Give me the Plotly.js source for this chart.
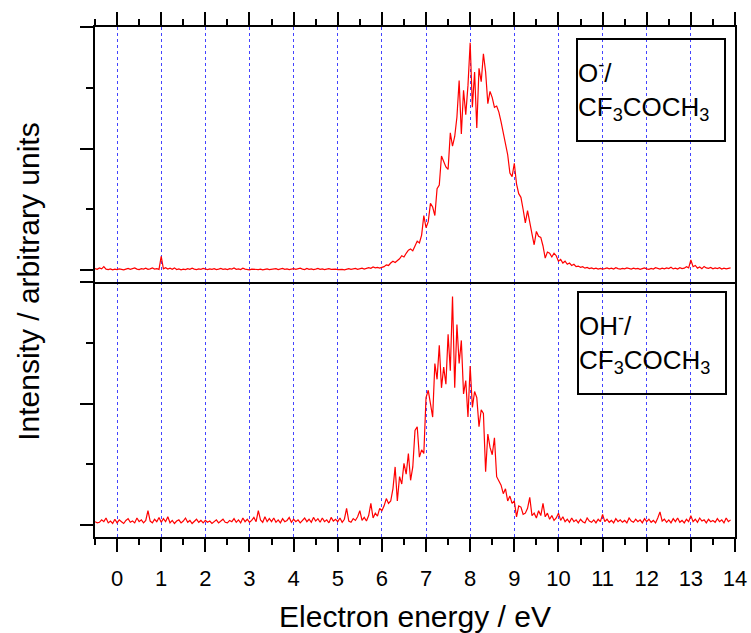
<!DOCTYPE html>
<html>
<head>
<meta charset="utf-8">
<script src="https://cdn.plot.ly/plotly-3.0.1.min.js"></script>
<style>html,body{margin:0;padding:0;background:#fff;}#chart{width:751px;height:633px;}</style>
</head>
<body>
<div id="chart"></div>
<script>
// Energy sampling grid (eV): start and step of the recorded scan
const energyStart = -0.5;
const energyStep = 0.05;

// O- / CF3COCH3 ion yield (upper panel), arbitrary units
const yieldO = [
0.015,0.008,0.020,0.012,0.030,0.010,0.006,0.012,0.004,0.010,
0.006,0.012,0.008,0.004,0.010,0.016,0.008,0.012,0.020,0.010,
0.006,0.014,0.010,0.018,0.008,0.012,0.020,0.010,0.014,0.008,
0.115,0.012,0.022,0.010,0.018,0.008,0.020,0.006,0.012,0.004,
0.010,0.006,0.014,0.008,0.018,0.010,0.006,0.012,0.008,0.016,
0.010,0.006,0.012,0.008,0.014,0.006,0.010,0.016,0.008,0.012,
0.006,0.014,0.010,0.020,0.008,0.012,0.006,0.018,0.010,0.008,
0.004,0.010,0.008,0.012,0.006,0.010,0.004,0.008,0.012,0.006,
0.010,0.008,0.014,0.006,0.010,0.016,0.008,0.012,0.006,0.010,
0.014,0.008,0.012,0.018,0.010,0.006,0.016,0.008,0.012,0.006,
0.010,0.016,0.008,0.012,0.006,0.010,0.014,0.008,0.012,0.010,
0.006,0.010,0.008,0.004,0.010,0.014,0.008,0.010,0.016,0.008,
0.012,0.018,0.010,0.014,0.022,0.016,0.028,0.020,0.024,0.018,
0.022,0.030,0.045,0.040,0.060,0.075,0.065,0.080,0.095,0.120,
0.110,0.140,0.165,0.175,0.160,0.200,0.240,0.225,0.290,0.450,
0.350,0.400,0.550,0.520,0.450,0.670,0.700,0.940,0.900,0.850,
0.830,1.130,1.020,1.100,1.260,1.560,1.120,1.480,1.280,1.520,
1.870,1.340,1.630,1.170,1.660,1.550,1.780,1.630,1.370,1.470,
1.420,1.340,1.350,1.300,1.220,1.130,1.070,0.950,0.800,0.770,
0.880,0.710,0.630,0.600,0.500,0.390,0.490,0.380,0.300,0.210,
0.320,0.280,0.270,0.200,0.100,0.150,0.140,0.110,0.140,0.120,
0.075,0.090,0.060,0.075,0.050,0.060,0.040,0.050,0.030,0.035,
0.025,0.030,0.018,0.024,0.014,0.020,0.012,0.018,0.010,0.016,
0.010,0.014,0.020,0.012,0.018,0.010,0.022,0.014,0.010,0.016,
0.012,0.020,0.014,0.010,0.018,0.012,0.016,0.008,0.014,0.020,
0.012,0.008,0.016,0.010,0.022,0.014,0.010,0.018,0.012,0.020,
0.014,0.026,0.012,0.018,0.010,0.022,0.014,0.018,0.030,0.020,
0.085,0.030,0.040,0.018,0.028,0.014,0.032,0.020,0.016,0.024,
0.012,0.020,0.014,0.022,0.010,0.018,0.012,0.016,0.020];

// OH- / CF3COCH3 ion yield (lower panel), arbitrary units
const yieldOH = [
0.030,0.020,0.025,0.045,0.030,0.060,0.020,0.035,0.015,0.050,
0.020,0.045,0.030,0.015,0.040,0.055,0.025,0.035,0.020,0.060,
0.030,0.045,0.020,0.040,0.120,0.035,0.020,0.050,0.030,0.065,
0.025,0.055,0.030,0.070,0.020,0.040,0.015,0.035,0.045,0.020,
0.035,0.060,0.025,0.040,0.015,0.030,0.050,0.025,0.040,0.020,
0.040,0.025,0.035,0.015,0.030,0.045,0.020,0.035,0.050,0.025,
0.020,0.040,0.030,0.055,0.025,0.045,0.020,0.060,0.030,0.050,
0.025,0.040,0.065,0.030,0.120,0.045,0.025,0.070,0.030,0.055,
0.030,0.060,0.025,0.045,0.020,0.055,0.030,0.040,0.065,0.025,
0.050,0.030,0.045,0.020,0.040,0.060,0.030,0.050,0.025,0.065,
0.035,0.055,0.025,0.060,0.030,0.045,0.020,0.065,0.035,0.050,
0.030,0.060,0.025,0.050,0.140,0.035,0.025,0.055,0.040,0.070,
0.120,0.040,0.065,0.035,0.080,0.180,0.060,0.100,0.075,0.140,
0.120,0.160,0.220,0.180,0.200,0.300,0.480,0.200,0.400,0.340,
0.510,0.420,0.590,0.370,0.480,0.780,0.810,0.560,0.620,0.590,
1.050,1.110,1.000,0.890,1.330,1.200,1.480,1.130,1.300,1.160,
1.570,1.270,1.880,1.130,1.650,1.330,1.520,1.080,1.190,0.890,
1.310,0.970,1.100,1.050,0.810,0.950,0.920,0.440,0.750,0.640,
0.580,0.720,0.400,0.370,0.330,0.260,0.300,0.200,0.240,0.180,
0.200,0.070,0.160,0.150,0.090,0.100,0.140,0.230,0.080,0.100,
0.060,0.120,0.080,0.180,0.070,0.100,0.050,0.080,0.040,0.060,
0.100,0.040,0.070,0.030,0.050,0.025,0.060,0.030,0.045,0.020,
0.050,0.030,0.020,0.060,0.035,0.025,0.045,0.020,0.050,0.030,
0.090,0.030,0.050,0.025,0.040,0.020,0.055,0.030,0.045,0.025,
0.040,0.020,0.060,0.035,0.025,0.050,0.030,0.045,0.020,0.055,
0.030,0.050,0.025,0.040,0.020,0.060,0.110,0.035,0.050,0.025,
0.045,0.020,0.055,0.030,0.060,0.025,0.040,0.020,0.050,0.030,
0.080,0.030,0.050,0.025,0.060,0.035,0.045,0.020,0.050,0.030,
0.040,0.025,0.055,0.030,0.045,0.020,0.060,0.030,0.045];

const xTickVals = [0,1,2,3,4,5,6,7,8,9,10,11,12,13,14];
const xTickText = ["0","1","2","3","4","5","6","7","8","9","10","11","12","13","14"];
const panelLabels = ["O<sup>-</sup>/<br>CF<sub>3</sub>COCH<sub>3</sub>", "OH<sup>-</sup>/<br>CF<sub>3</sub>COCH<sub>3</sub>"];
const xTitle = "Electron energy / eV";
const yTitle = "Intensity / arbitrary units";

const energy = yieldO.map((_, i) => +(energyStart + i * energyStep).toFixed(3));

const FONT = "Liberation Sans, Arial, Helvetica, sans-serif";
const lineStyle = {color: "#ff0000", width: 1.2};

const traces = [
  {x: energy, y: yieldOH, xaxis: "x", yaxis: "y", type: "scatter", mode: "lines", line: lineStyle, hoverinfo: "skip"},
  {x: energy, y: yieldO, xaxis: "x2", yaxis: "y2", type: "scatter", mode: "lines", line: lineStyle, hoverinfo: "skip"}
];

const yRange = [-0.096, 2.0];
const xBase = {
  range: [-0.5, 14], tickmode: "array", tickvals: xTickVals, ticktext: xTickText,
  showline: true, linecolor: "#000", linewidth: 2,
  ticks: "outside", ticklen: 13, tickwidth: 2, tickcolor: "#000",
  showgrid: true, gridcolor: "#4444ff", gridwidth: 1, griddash: "dot",
  zeroline: false,
  minor: {dtick: 0.5, tick0: 0, ticks: "outside", ticklen: 6, tickwidth: 2, tickcolor: "#000", showgrid: false}
};
const yBase = {
  range: yRange, tickmode: "linear", tick0: 0, dtick: 1,
  showline: true, linecolor: "#000", linewidth: 2, mirror: true,
  ticks: "outside", ticklen: 13, tickwidth: 2, tickcolor: "#000",
  showticklabels: false, showgrid: false, zeroline: false,
  minor: {dtick: 0.5, tick0: 0, ticks: "outside", ticklen: 7, tickwidth: 2, tickcolor: "#000", showgrid: false}
};
const yRight = {
  range: yRange, tickmode: "linear", tick0: 0, dtick: 1, side: "right",
  showline: false, ticks: "inside", ticklen: 4, tickwidth: 1.5, tickcolor: "#000",
  showticklabels: false, showgrid: false, zeroline: false,
  minor: {dtick: 0.5, tick0: 0, ticks: "inside", ticklen: 4, tickwidth: 1.5, tickcolor: "#000", showgrid: false}
};

const boxBase = {
  xref: "paper", yref: "paper", xanchor: "left", yanchor: "top",
  align: "left", valign: "middle", showarrow: false,
  bordercolor: "#000", borderwidth: 2, borderpad: 0, bgcolor: "rgba(255,255,255,0)",
  width: 146, height: 100,
  font: {family: FONT, size: 26, color: "#000"}
};

const layout = {
  width: 751, height: 633,
  margin: {l: 95, r: 16, t: 27, b: 96},
  paper_bgcolor: "#fff", plot_bgcolor: "#fff",
  showlegend: false,
  font: {family: FONT, color: "#000"},
  xaxis: Object.assign({}, xBase, {anchor: "y", domain: [0, 1], side: "bottom", mirror: false,
    tickfont: {family: FONT, size: 22, color: "#000"}, ticklabelstandoff: 8,
    title: {text: xTitle, font: {family: FONT, size: 30, color: "#000"}, standoff: 18}}),
  xaxis2: Object.assign({}, xBase, {anchor: "y2", matches: "x", side: "top", mirror: true, showticklabels: false}),
  yaxis: Object.assign({}, yBase, {anchor: "x", domain: [0, 0.5]}),
  yaxis2: Object.assign({}, yBase, {anchor: "x2", domain: [0.5, 1]}),
  yaxis3: Object.assign({}, yRight, {overlaying: "y", anchor: "x"}),
  yaxis4: Object.assign({}, yRight, {overlaying: "y2", anchor: "x2"}),
  annotations: [
    Object.assign({}, boxBase, {text: panelLabels[0], x: 0.7516, y: 0.979}),
    Object.assign({}, boxBase, {text: panelLabels[1], x: 0.7531, y: 0.4818}),
    {text: yTitle, xref: "paper", yref: "paper", x: -0.105, y: 0.5, xanchor: "center", yanchor: "middle",
     textangle: -90, showarrow: false, font: {family: FONT, size: 30, color: "#000"}}
  ]
};

Plotly.newPlot("chart", traces, layout, {staticPlot: true, displayModeBar: false});
</script>
</body>
</html>
